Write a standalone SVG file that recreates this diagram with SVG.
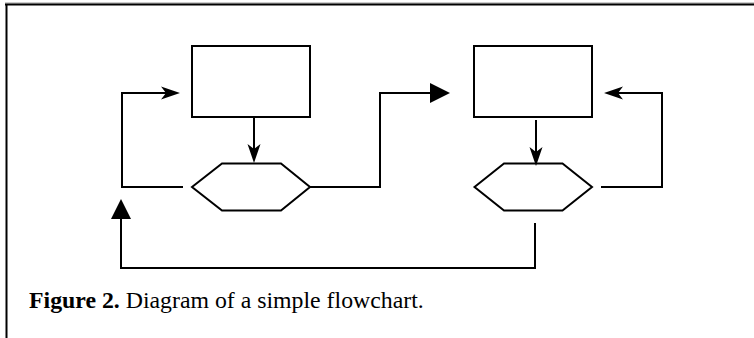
<svg xmlns="http://www.w3.org/2000/svg" width="754" height="338" viewBox="0 0 754 338">
<style>
.node{fill:#fff;stroke:#000;stroke-width:2}
.conn{fill:none;stroke:#000;stroke-width:2;stroke-linejoin:miter}
.cap{font-family:"Liberation Serif","Times New Roman",serif;font-size:23.8px;fill:#000}
</style>
<defs>
<marker id="barb" markerUnits="userSpaceOnUse" viewBox="-20 -8 25 16" markerWidth="25" markerHeight="16" refX="0" refY="0" orient="auto">
<path d="M4,0 L-15,-6.5 L-10,0 L-15,6.5 Z" fill="#000"/>
</marker>
<marker id="tri" markerUnits="userSpaceOnUse" viewBox="-20 -11 25 22" markerWidth="25" markerHeight="22" refX="0" refY="0" orient="auto">
<path d="M4,0 L-16,-10 L-16,10 Z" fill="#000"/>
</marker>
</defs>
<rect width="754" height="338" fill="#fff"/>
<g id="frame">
<line x1="5" y1="3" x2="754" y2="3" stroke="#999" stroke-width="1"/>
<line x1="5" y1="4.5" x2="754" y2="4.5" stroke="#000" stroke-width="1.8"/>
<line x1="6.5" y1="4" x2="6.5" y2="338" stroke="#000" stroke-width="2"/>
</g>
<g id="box1"><rect class="node" x="192" y="46" width="118" height="71"/></g>
<g id="hex1"><polygon class="node" points="192,187 222,163.5 281,163.5 310,187 281,210.5 222,210.5"/></g>
<g id="box2"><rect class="node" x="474" y="46" width="118" height="71"/></g>
<g id="hex2"><polygon class="node" points="474.5,187 504,163.5 562.5,163.5 592,187 562.5,210.5 504,210.5"/></g>
<g id="connectors">
<path class="conn" d="M254,117 V159" marker-end="url(#barb)"/>
<path class="conn" d="M183,187 H122 V93 H176" marker-end="url(#barb)"/>
<path class="conn" d="M310,187 H380 V93 H446" marker-end="url(#tri)"/>
<path class="conn" d="M536,120 V162" marker-end="url(#barb)"/>
<path class="conn" d="M601,187 H662 V93 H608" marker-end="url(#barb)"/>
<path class="conn" d="M535,223 V268 H121 V203" marker-end="url(#tri)"/>
</g>
<g id="caption">
<text class="cap" x="29" y="308"><tspan font-weight="bold">Figure 2.</tspan> Diagram of a simple flowchart.</text>
</g>
</svg>
